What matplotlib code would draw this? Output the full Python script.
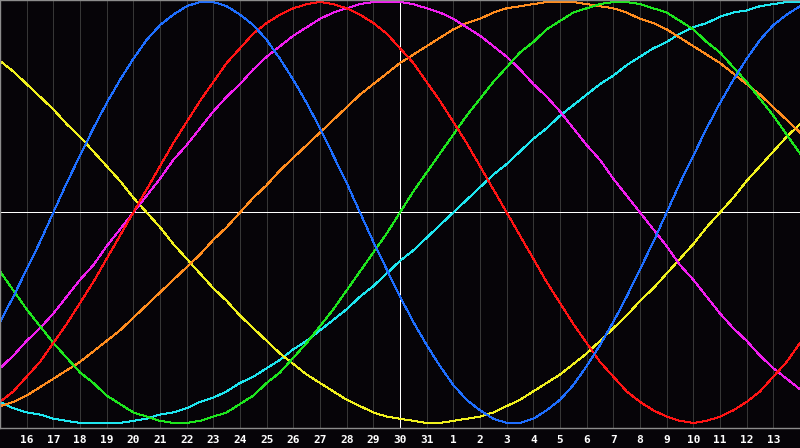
import matplotlib
matplotlib.use('Agg')
import matplotlib.pyplot as plt
import numpy as np

# half-day positions (offset 0 = the 30th), from the 15th to the 14th of next month
day_offsets = [i / 2 for i in range(-30, 31)]
tick_offsets = list(range(-14, 15))
tick_labels = ['16', '17', '18', '19', '20', '21', '22', '23', '24', '25', '26',
               '27', '28', '29', '30', '31', '1', '2', '3', '4', '5', '6', '7',
               '8', '9', '10', '11', '12', '13']

# cycle values (-1 .. 1) every half day
physical = [-0.52, -0.40, -0.27, -0.14, 0.00, 0.14, 0.27, 0.40, 0.52, 0.63, 0.73,
            0.82, 0.89, 0.94, 0.98, 1.00, 1.00, 0.98, 0.94, 0.89, 0.82, 0.73,
            0.63, 0.52, 0.40, 0.27, 0.14, 0.00, -0.14, -0.27, -0.40, -0.52, -0.63,
            -0.73, -0.82, -0.89, -0.94, -0.98, -1.00, -1.00, -0.98, -0.94, -0.89,
            -0.82, -0.73, -0.63, -0.52, -0.40, -0.27, -0.14, 0.00, 0.14, 0.27,
            0.40, 0.52, 0.63, 0.73, 0.82, 0.89, 0.94, 0.98]
emotional = [-0.90, -0.85, -0.78, -0.71, -0.62, -0.53, -0.43, -0.33, -0.22, -0.11,
             0.00, 0.11, 0.22, 0.33, 0.43, 0.53, 0.62, 0.71, 0.78, 0.85, 0.90, 0.94,
             0.97, 0.99, 1.00, 0.99, 0.97, 0.94, 0.90, 0.85, 0.78, 0.71, 0.62, 0.53,
             0.43, 0.33, 0.22, 0.11, 0.00, -0.11, -0.22, -0.33, -0.43, -0.53, -0.62,
             -0.71, -0.78, -0.85, -0.90, -0.94, -0.97, -0.99, -1.00, -0.99, -0.97,
             -0.94, -0.90, -0.85, -0.78, -0.71, -0.62]
intellectual = [-0.28, -0.37, -0.46, -0.54, -0.62, -0.69, -0.76, -0.81, -0.87, -0.91,
                -0.95, -0.97, -0.99, -1.00, -1.00, -0.99, -0.97, -0.95, -0.91, -0.87,
                -0.81, -0.76, -0.69, -0.62, -0.54, -0.46, -0.37, -0.28, -0.19, -0.10,
                0.00, 0.10, 0.19, 0.28, 0.37, 0.46, 0.54, 0.62, 0.69, 0.76, 0.81, 0.87,
                0.91, 0.95, 0.97, 0.99, 1.00, 1.00, 0.99, 0.97, 0.95, 0.91, 0.87, 0.81,
                0.76, 0.69, 0.62, 0.54, 0.46, 0.37, 0.28]
intuitive = [-0.74, -0.68, -0.61, -0.55, -0.48, -0.40, -0.32, -0.25, -0.16, -0.08,
             0.00, 0.08, 0.16, 0.25, 0.32, 0.40, 0.48, 0.55, 0.61, 0.68, 0.74, 0.79,
             0.84, 0.88, 0.92, 0.95, 0.97, 0.99, 1.00, 1.00, 1.00, 0.99, 0.97, 0.95,
             0.92, 0.88, 0.84, 0.79, 0.74, 0.68, 0.61, 0.55, 0.48, 0.40, 0.32, 0.25,
             0.16, 0.08, 0.00, -0.08, -0.16, -0.25, -0.32, -0.40, -0.48, -0.55, -0.61,
             -0.68, -0.74, -0.79, -0.84]
aesthetic = [0.72, 0.67, 0.61, 0.55, 0.49, 0.42, 0.36, 0.29, 0.22, 0.15, 0.07, 0.00,
             -0.07, -0.15, -0.22, -0.29, -0.36, -0.42, -0.49, -0.55, -0.61, -0.67,
             -0.72, -0.77, -0.81, -0.85, -0.89, -0.92, -0.95, -0.97, -0.98, -0.99,
             -1.00, -1.00, -0.99, -0.98, -0.97, -0.95, -0.92, -0.89, -0.85, -0.81,
             -0.77, -0.72, -0.67, -0.61, -0.55, -0.49, -0.42, -0.36, -0.29, -0.22,
             -0.15, -0.07, 0.00, 0.07, 0.15, 0.22, 0.29, 0.36, 0.42]
awareness = [-0.92, -0.90, -0.87, -0.83, -0.79, -0.75, -0.71, -0.66, -0.61, -0.56,
             -0.50, -0.44, -0.38, -0.32, -0.26, -0.20, -0.13, -0.07, 0.00, 0.07, 0.13,
             0.20, 0.26, 0.32, 0.38, 0.44, 0.50, 0.56, 0.61, 0.66, 0.71, 0.75, 0.79,
             0.83, 0.87, 0.90, 0.92, 0.95, 0.97, 0.98, 0.99, 1.00, 1.00, 1.00, 0.99,
             0.98, 0.97, 0.95, 0.92, 0.90, 0.87, 0.83, 0.79, 0.75, 0.71, 0.66, 0.61,
             0.56, 0.50, 0.44, 0.38]
spiritual = [-0.90, -0.93, -0.95, -0.96, -0.98, -0.99, -1.00, -1.00, -1.00, -1.00,
             -0.99, -0.98, -0.96, -0.95, -0.93, -0.90, -0.88, -0.85, -0.81, -0.78,
             -0.74, -0.70, -0.65, -0.61, -0.56, -0.51, -0.46, -0.40, -0.35, -0.29,
             -0.23, -0.18, -0.12, -0.06, 0.00, 0.06, 0.12, 0.18, 0.23, 0.29, 0.35,
             0.40, 0.46, 0.51, 0.56, 0.61, 0.65, 0.70, 0.74, 0.78, 0.81, 0.85, 0.88,
             0.90, 0.93, 0.95, 0.96, 0.98, 0.99, 1.00, 1.00]

bg = '#060408'
px = 0.72  # one pixel at 100 dpi

fig = plt.figure(figsize=(8, 4.48), dpi=100, facecolor=bg)
ax = fig.add_axes([0, 1 - 428 / 448, 1, 428 / 448], facecolor=bg)

# day grid, today in white
for d in tick_offsets:
    col = 'white' if d == 0 else '#363636'
    ax.axvline(d, color=col, lw=px, antialiased=False, zorder=1)
ax.axhline(0, color='white', lw=px, antialiased=False, zorder=1)

series = [
    (spiritual, '#1ee6f0'),
    (aesthetic, '#f0f01e'),
    (awareness, '#ff8c1e'),
    (intuitive, '#f01ef0'),
    (intellectual, '#1ee61e'),
    (emotional, '#ff1414'),
    (physical, '#1e6eff'),
]
for vals, col in series:
    ax.plot(day_offsets, vals, color=col, lw=px, antialiased=False, zorder=2)

ax.set_xlim(-15, 15)
ax.set_ylim(-1.024, 1.0095)
ax.set_yticks([])
ax.set_xticks(tick_offsets)
ax.set_xticklabels(tick_labels, color='white', fontsize=8,
                   fontweight='bold', family='DejaVu Sans Mono')
ax.tick_params(axis='x', length=0, pad=5)

for side in ['left', 'top', 'bottom']:
    ax.spines[side].set_color('#8c8c8c')
    ax.spines[side].set_linewidth(1.0)
ax.spines['right'].set_visible(False)

fig.savefig('out.png', dpi=100, facecolor=bg)
